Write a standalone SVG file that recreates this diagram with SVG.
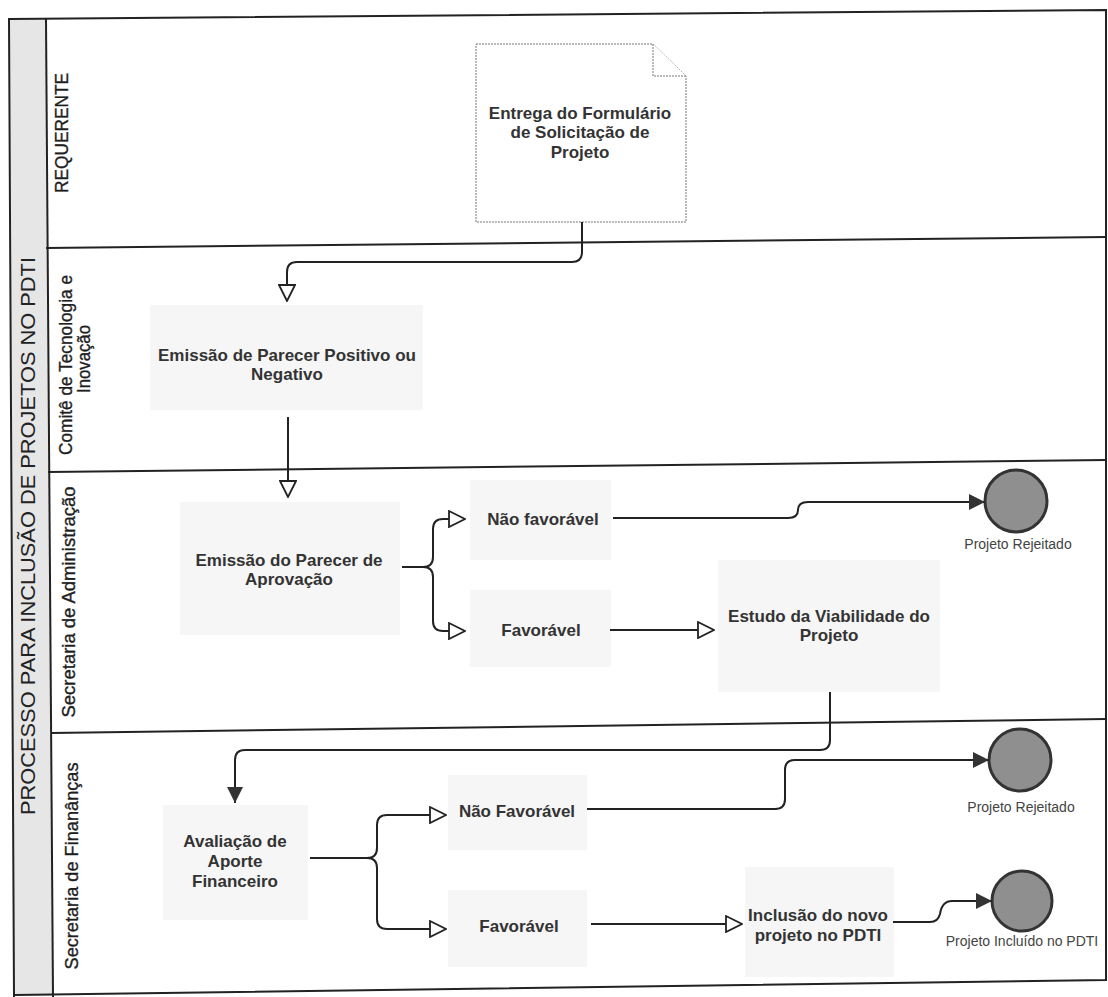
<svg xmlns="http://www.w3.org/2000/svg" width="1108" height="997" viewBox="0 0 1108 997">
<style>
.frame{fill:none;stroke:#222;stroke-width:2}
.lane{stroke:#222;stroke-width:2}
.title{fill:#e6e6e6}
.lbl{font-family:"Liberation Sans",Arial,sans-serif;font-size:18px;fill:#1e1e1e;stroke:#1e1e1e;stroke-width:0.35;text-anchor:middle}
.ttl{font-family:"Liberation Sans",Arial,sans-serif;font-size:21px;fill:#222;text-anchor:middle}
.t{font-family:"Liberation Sans",Arial,sans-serif;font-size:17px;font-weight:bold;fill:#333;text-anchor:middle}
.s{font-family:"Liberation Sans",Arial,sans-serif;font-size:14px;fill:#444;text-anchor:middle}
.box{fill:#f6f6f6}
.doc{fill:#fff;stroke:#777;stroke-width:1;stroke-dasharray:2 1}
.end{fill:#8f8f8f;stroke:#333;stroke-width:3}
.c{fill:none;stroke:#222;stroke-width:2}
.ao{marker-end:url(#ao)}
.af{marker-end:url(#af)}
</style>
<defs>
<marker id="ao" viewBox="0 0 18 18" refX="17" refY="9" markerWidth="18" markerHeight="18" markerUnits="userSpaceOnUse" orient="auto"><path d="M1,1 L17,9 L1,17 Z" fill="#fff" stroke="#222" stroke-width="1.8"/></marker>
<marker id="af" viewBox="0 0 18 18" refX="17" refY="9" markerWidth="18" markerHeight="18" markerUnits="userSpaceOnUse" orient="auto"><path d="M1,1 L17,9 L1,17 Z" fill="#333"/></marker>
</defs>
<rect width="1108" height="997" fill="#fff"/>
<g id="pool">
<polygon class="title" points="9,19 46,19 53,996 14,996"/>
<polygon class="frame" points="9,19 1106,10 1106,980 14,995"/>
<line class="lane" x1="14" y1="995" x2="14" y2="997"/>
<line class="lane" x1="46" y1="19" x2="53" y2="997"/>
<line class="lane" x1="46" y1="248" x2="1106" y2="237"/>
<line class="lane" x1="48" y1="472" x2="1106" y2="460"/>
<line class="lane" x1="51" y1="733" x2="1106" y2="719"/>
<text class="ttl" transform="translate(35,536) rotate(-90)" textLength="558" lengthAdjust="spacingAndGlyphs">PROCESSO PARA INCLUSÃO DE PROJETOS NO PDTI</text>
<text class="lbl" transform="translate(68,133) rotate(-90)" textLength="120" lengthAdjust="spacingAndGlyphs">REQUERENTE</text>
<text class="lbl" transform="translate(72,365) rotate(-90)" textLength="180" lengthAdjust="spacingAndGlyphs">Comitê de Tecnologia e</text>
<text class="lbl" transform="translate(90,359) rotate(-90)" textLength="68" lengthAdjust="spacingAndGlyphs">Inovação</text>
<text class="lbl" transform="translate(75,602) rotate(-90)" textLength="231" lengthAdjust="spacingAndGlyphs">Secretaria de Administração</text>
<text class="lbl" transform="translate(78,866) rotate(-90)" textLength="207" lengthAdjust="spacingAndGlyphs">Secretaria de Finanânças</text>
</g>
<g id="n1">
<path class="doc" d="M476,44 H653 L686,76 V222 H476 Z"/>
<path class="doc" d="M653,44 V76 H686" fill="none"/>
<text class="t" x="580" y="119">Entrega do Formulário</text>
<text class="t" x="580" y="138">de Solicitação de</text>
<text class="t" x="580" y="158">Projeto</text>
</g>
<g id="n2">
<rect class="box" x="150" y="305" width="273" height="105"/>
<text class="t" x="287" y="361">Emissão de Parecer Positivo ou</text>
<text class="t" x="287" y="380">Negativo</text>
</g>
<g id="n3">
<rect class="box" x="180" y="502" width="220" height="133"/>
<text class="t" x="289" y="566">Emissão do Parecer de</text>
<text class="t" x="289" y="585">Aprovação</text>
</g>
<g id="d1">
<rect class="box" x="470" y="480" width="141" height="80"/>
<text class="t" x="543" y="525">Não favorável</text>
</g>
<g id="d2">
<rect class="box" x="470" y="590" width="141" height="77"/>
<text class="t" x="541" y="636">Favorável</text>
</g>
<g id="n4">
<rect class="box" x="718" y="560" width="222" height="132"/>
<text class="t" x="829" y="622">Estudo da Viabilidade do</text>
<text class="t" x="829" y="641">Projeto</text>
</g>
<g id="e1">
<circle class="end" cx="1016" cy="501" r="31"/>
<text class="s" x="1018" y="549">Projeto Rejeitado</text>
</g>
<g id="n5">
<rect class="box" x="163" y="805" width="145" height="115"/>
<text class="t" x="235" y="847">Avaliação de</text>
<text class="t" x="235" y="867">Aporte</text>
<text class="t" x="235" y="887">Financeiro</text>
</g>
<g id="d3">
<rect class="box" x="448" y="775" width="139" height="75"/>
<text class="t" x="517" y="817">Não Favorável</text>
</g>
<g id="d4">
<rect class="box" x="448" y="890" width="139" height="77"/>
<text class="t" x="519" y="932">Favorável</text>
</g>
<g id="n6">
<rect class="box" x="745" y="867" width="149" height="110"/>
<text class="t" x="818" y="921">Inclusão do novo</text>
<text class="t" x="818" y="941">projeto no PDTI</text>
</g>
<g id="e2">
<circle class="end" cx="1020" cy="760" r="31"/>
<text class="s" x="1021" y="812">Projeto Rejeitado</text>
</g>
<g id="e3">
<circle class="end" cx="1022" cy="901" r="30"/>
<text class="s" x="1022" y="946">Projeto Incluído no PDTI</text>
</g>
<g id="connectors">
<path class="c ao" d="M582,222 V252 Q582,262 572,262 H297 Q287,262 287,272 V301"/>
<path class="c ao" d="M288,417 V497"/>
<path class="c ao" d="M402,567 H423 Q433,567 433,557 V529 Q433,519 443,519 H465"/>
<path class="c ao" d="M423,567 Q433,567 433,577 V621 Q433,631 443,631 H465"/>
<path class="c af" d="M613,518 H788 Q798,518 798,510 Q798,502 808,502 H985"/>
<path class="c ao" d="M610,630 H714"/>
<path class="c af" d="M830,692 V740 Q830,750 820,750 H245 Q235,750 235,760 V803"/>
<path class="c ao" d="M310,858 H367 Q377,858 377,848 V825 Q377,815 387,815 H446"/>
<path class="c ao" d="M367,858 Q377,858 377,868 V919 Q377,929 387,929 H446"/>
<path class="c af" d="M587,809 H775 Q785,809 785,799 V770 Q785,760 795,760 H989"/>
<path class="c ao" d="M591,924 H742"/>
<path class="c af" d="M893,922 H930 Q938,922 940,914 Q942,901 952,901 H992"/>
</g>
</svg>
